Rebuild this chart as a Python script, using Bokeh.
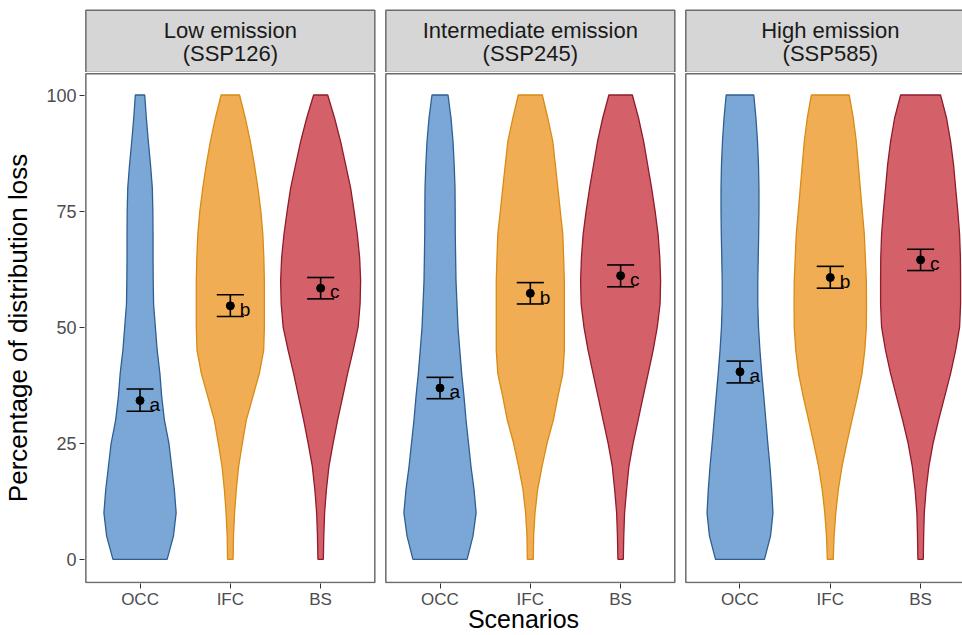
from bokeh.plotting import figure
from bokeh.models import Range1d, FixedTicker, CustomJSTickFormatter, ColumnDataSource
from bokeh.layouts import column
from bokeh.embed import file_html
from bokeh.resources import INLINE
from bokeh.core.properties import value

# ---------------- data ----------------
strip_line1 = ["Low emission", "Intermediate emission", "High emission"]
strip_line2 = ["(SSP126)", "(SSP245)", "(SSP585)"]
scenarios = ["OCC", "IFC", "BS"]
y_ticks = [0, 25, 50, 75, 100]

# violin half-widths (category units) at these loss levels
levels = [0, 5, 10, 15, 20, 25, 30, 35, 40, 45, 50, 55, 60, 65, 70, 75, 80, 85, 90, 95, 100]

low_occ = [0.30, 0.37, 0.40, 0.38, 0.35, 0.32, 0.27, 0.24, 0.22, 0.19, 0.17, 0.15, 0.146, 0.144, 0.144, 0.142, 0.136, 0.116, 0.092, 0.07, 0.052]
low_ifc = [0.031, 0.035, 0.047, 0.066, 0.092, 0.133, 0.177, 0.249, 0.321, 0.369, 0.377, 0.377, 0.377, 0.371, 0.36, 0.338, 0.305, 0.266, 0.221, 0.166, 0.102]
low_bs = [0.030, 0.035, 0.044, 0.064, 0.092, 0.138, 0.188, 0.244, 0.299, 0.36, 0.415, 0.437, 0.443, 0.432, 0.406, 0.371, 0.332, 0.277, 0.221, 0.155, 0.078]

mid_occ = [0.30, 0.365, 0.40, 0.377, 0.343, 0.316, 0.288, 0.266, 0.24, 0.219, 0.199, 0.188, 0.177, 0.173, 0.169, 0.168, 0.166, 0.157, 0.144, 0.122, 0.089]
mid_ifc = [0.033, 0.037, 0.052, 0.081, 0.13, 0.185, 0.255, 0.305, 0.36, 0.377, 0.377, 0.377, 0.377, 0.369, 0.36, 0.332, 0.305, 0.277, 0.249, 0.194, 0.133]
mid_bs = [0.030, 0.035, 0.044, 0.066, 0.092, 0.138, 0.194, 0.249, 0.305, 0.36, 0.406, 0.437, 0.443, 0.434, 0.415, 0.382, 0.343, 0.299, 0.255, 0.199, 0.13]

high_occ = [0.271, 0.338, 0.365, 0.351, 0.332, 0.308, 0.286, 0.264, 0.241, 0.221, 0.205, 0.197, 0.197, 0.202, 0.207, 0.21, 0.21, 0.205, 0.194, 0.177, 0.153]
high_ifc = [0.033, 0.042, 0.061, 0.089, 0.13, 0.183, 0.24, 0.299, 0.351, 0.382, 0.399, 0.401, 0.399, 0.388, 0.377, 0.354, 0.332, 0.31, 0.288, 0.255, 0.21]
high_bs = [0.030, 0.034, 0.041, 0.061, 0.092, 0.138, 0.199, 0.266, 0.332, 0.388, 0.432, 0.443, 0.443, 0.441, 0.432, 0.412, 0.388, 0.365, 0.332, 0.288, 0.221]

# means and error bars per panel (OCC, IFC, BS)
mean_low = [34.2, 54.6, 58.4]
lower_low = [31.9, 52.3, 56.1]
upper_low = [36.7, 57.0, 60.7]
mean_mid = [36.9, 57.3, 61.1]
lower_mid = [34.6, 55.0, 58.7]
upper_mid = [39.2, 59.6, 63.4]
mean_high = [40.4, 60.7, 64.5]
lower_high = [38.0, 58.4, 62.2]
upper_high = [42.7, 63.1, 66.8]
letters = ["a", "b", "c"]

# ---------------- styling ----------------
FONT = "Liberation Sans"
fills = ["#7BA7D6", "#F0AD53", "#D4606A"]
lines = ["#2E5E92", "#D88B17", "#8E1C2B"]
panel_offsets = [0.0, 3.322, 6.644]
border_col = "#6b6b6b"

violins = [[low_occ, low_ifc, low_bs], [mid_occ, mid_ifc, mid_bs], [high_occ, high_ifc, high_bs]]
means = [mean_low, mean_mid, mean_high]
lowers = [lower_low, lower_mid, lower_high]
uppers = [upper_low, upper_mid, upper_high]

W = 962
H = 635
STRIP_H = 72
LEFT = 84
x_range = Range1d(0.385, 0.385 + (W - LEFT) / 90.3)

# ---------------- strip figure ----------------
ps = figure(width=W, height=STRIP_H, x_range=x_range, y_range=Range1d(0, 1.03),
            output_backend="svg", toolbar_location=None,
            x_axis_location=None, y_axis_location=None,
            min_border_left=LEFT, min_border_right=0, min_border_top=8, min_border_bottom=0)
ps.grid.visible = False
ps.outline_line_color = None
ps.background_fill_color = "white"

sx_left = [o + 0.4 for o in panel_offsets]
sx_right = [o + 3.6 for o in panel_offsets]
sx_mid = [o + 2.0 for o in panel_offsets]
ps.quad(left=sx_left, right=sx_right, bottom=[0] * 3, top=[1.0] * 3,
        fill_color="#D6D6D6", line_color=border_col, line_width=1.5)
ps.text(x=sx_mid, y=[0.68] * 3, text=strip_line1, text_align="center", text_baseline="middle",
        text_font=value(FONT), text_font_size="22px", text_color="#1a1a1a")
ps.text(x=sx_mid, y=[0.31] * 3, text=strip_line2, text_align="center", text_baseline="middle",
        text_font=value(FONT), text_font_size="22px", text_color="#1a1a1a")

# ---------------- main figure ----------------
p = figure(width=W, height=H - STRIP_H, x_range=x_range, y_range=Range1d(-5.2, 104.85),
           output_backend="svg", toolbar_location=None,
           min_border_left=LEFT, min_border_right=0, min_border_top=0, min_border_bottom=52)
p.grid.visible = False
p.outline_line_color = None
p.background_fill_color = "white"

# panel borders
p.quad(left=sx_left, right=sx_right, bottom=[-5] * 3, top=[104.6] * 3,
       fill_color=None, line_color=border_col, line_width=1.5)

tick_pos = []
for k, off in enumerate(panel_offsets):
    for i in range(3):
        c = off + i + 1
        tick_pos.append(c)
        w = violins[k][i]
        xs = [c + v for v in w] + [c - v for v in reversed(w)]
        ys = list(levels) + list(reversed(levels))
        p.patch(xs, ys, fill_color=fills[i], line_color=lines[i], line_width=1.3)

    centers = [off + i + 1 for i in range(3)]
    src = ColumnDataSource(dict(
        x=centers, m=means[k], lo=lowers[k], hi=uppers[k],
        x0=[c - 0.15 for c in centers], x1=[c + 0.15 for c in centers],
        xl=[c + 0.105 for c in centers], yl=[m - 0.8 for m in means[k]], lab=letters))
    p.segment(x0="x", y0="lo", x1="x", y1="hi", source=src, line_color="black", line_width=1.6)
    p.segment(x0="x0", y0="lo", x1="x1", y1="lo", source=src, line_color="black", line_width=1.6)
    p.segment(x0="x0", y0="hi", x1="x1", y1="hi", source=src, line_color="black", line_width=1.6)
    p.scatter(x="x", y="m", source=src, size=8, color="black")
    p.text(x="xl", y="yl", text="lab", source=src, text_align="left", text_baseline="middle",
           text_font=value(FONT), text_font_size="19px", text_color="black")

# axes
xa = p.xaxis[0]
xa.ticker = FixedTicker(ticks=tick_pos)
xa.formatter = CustomJSTickFormatter(args=dict(names=scenarios), code="return names[index % 3];")
xa.axis_line_color = None
xa.major_tick_line_color = "#333333"
xa.major_tick_out = 5
xa.major_tick_in = 0
xa.minor_tick_line_color = None
xa.major_label_text_font = FONT
xa.major_label_text_font_size = "17px"
xa.major_label_text_color = "#4d4d4d"
xa.major_label_standoff = 1
xa.axis_label = "Scenarios"
xa.axis_label_text_font = FONT
xa.axis_label_text_font_size = "25px"
xa.axis_label_text_font_style = "normal"
xa.axis_label_text_color = "black"
xa.axis_label_standoff = -7

ya = p.yaxis[0]
ya.ticker = FixedTicker(ticks=y_ticks)
ya.axis_line_color = None
ya.major_tick_line_color = "#333333"
ya.major_tick_out = 5
ya.major_tick_in = 0
ya.minor_tick_line_color = None
ya.major_label_text_font = FONT
ya.major_label_text_font_size = "18px"
ya.major_label_text_color = "#4d4d4d"
ya.major_label_standoff = 3
ya.axis_label = "Percentage of distribution loss"
ya.axis_label_text_font = FONT
ya.axis_label_text_font_size = "26px"
ya.axis_label_text_font_style = "normal"
ya.axis_label_text_color = "black"
ya.axis_label_standoff = 10

layout = column(ps, p, spacing=0)
open("out.html", "w").write(file_html(layout, INLINE))
